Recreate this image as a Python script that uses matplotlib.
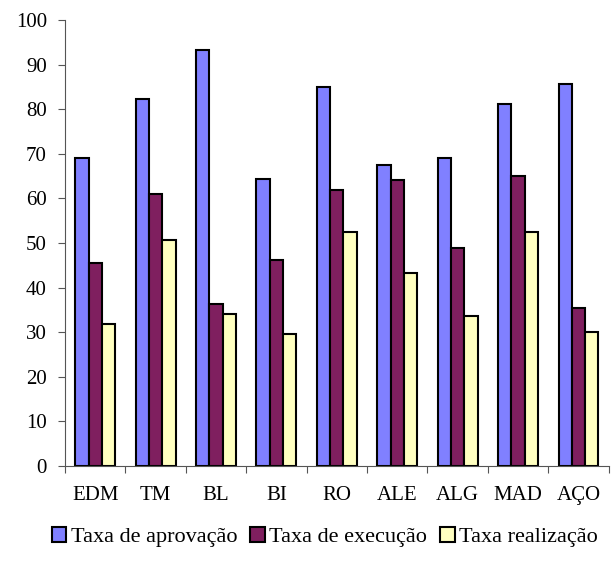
import matplotlib.pyplot as plt
import numpy as np

categories = ['EDM', 'TM', 'BL', 'BI', 'RO', 'ALE', 'ALG', 'MAD', 'AÇO']
aprovacao = [69.0, 82.4, 93.2, 64.4, 85.1, 67.6, 69.0, 81.1, 85.6]
execucao = [45.6, 60.9, 36.3, 46.1, 61.8, 64.1, 48.8, 65.0, 35.4]
realizacao = [31.8, 50.7, 34.1, 29.6, 52.4, 43.4, 33.6, 52.4, 30.0]

series = [aprovacao, execucao, realizacao]
labels = ['Taxa de aprovação', 'Taxa de execução', 'Taxa realização']
colors = ['#8080FF', '#7F1F5F', '#FFFFC0']

plt.rcParams.update({
    'font.size': 15,
    'font.family': ['Liberation Serif', 'DejaVu Serif'],
})

fig = plt.figure(figsize=(6.13, 5.74), dpi=100)
ax = fig.add_axes([0.106, 0.188, 0.887, 0.777])

x = np.arange(len(categories))
w = 0.22
for i, (vals, lab, col) in enumerate(zip(series, labels, colors)):
    ax.bar(x + (i - 1) * w, vals, width=w, color=col, edgecolor='black',
           linewidth=1.5, label=lab)

ax.set_xlim(-0.5, len(categories) - 0.5)
ax.set_ylim(0, 100)
ax.set_yticks(range(0, 101, 10))
ax.set_xticks(np.arange(-0.5, len(categories), 1.0))
ax.set_xticklabels([])
ax.set_xticks(x, minor=True)
ax.set_xticklabels(categories, minor=True)
ax.tick_params(axis='x', which='minor', length=0, pad=14)
ax.tick_params(axis='x', which='major', length=5, direction='out', color='#555555')
ax.tick_params(axis='y', length=5, direction='out', color='#555555', pad=8)

for s in ['top', 'right']:
    ax.spines[s].set_visible(False)
for s in ['left', 'bottom']:
    ax.spines[s].set_color('#555555')

fig.legend(loc='center', bbox_to_anchor=(0.53, 0.064), ncol=3,
           frameon=False, fontsize=16, handlelength=0.65, handleheight=0.65,
           handletextpad=0.2, columnspacing=0.6, borderaxespad=0)

fig.savefig('out.png', dpi=100)
